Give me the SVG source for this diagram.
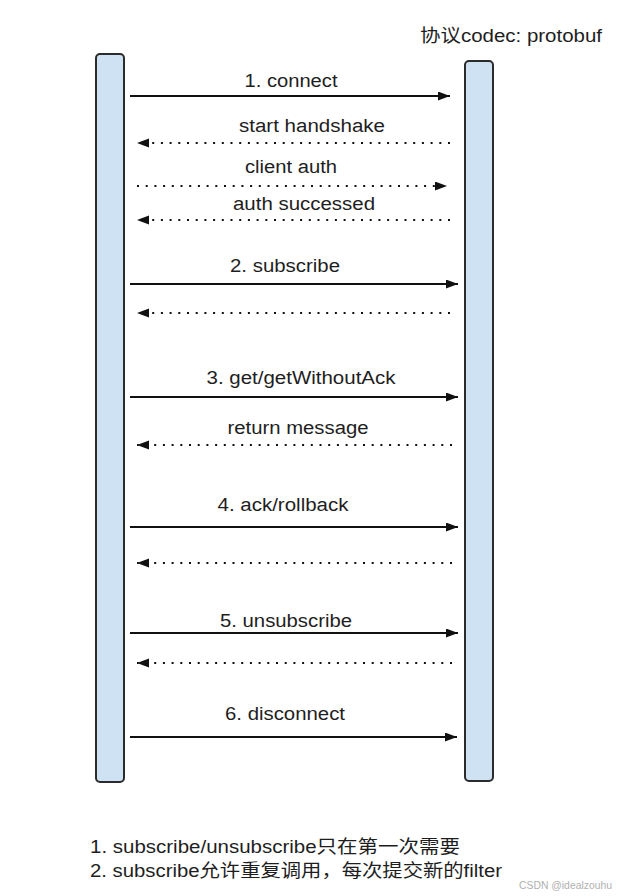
<svg xmlns="http://www.w3.org/2000/svg" width="619" height="896" viewBox="0 0 619 896">
<style>
.bg{fill:#ffffff}
.life{fill:#cfe2f3;stroke:#2b2b2b;stroke-width:2}
.lbl{font-family:"Liberation Sans",Arial,sans-serif;font-size:18px;fill:#1e1e1e;text-anchor:middle}
.note{font-family:"Liberation Sans","Noto Sans CJK SC",sans-serif;font-size:18px;fill:#1e1e1e}
.solid{stroke:#111;stroke-width:2;fill:none;marker-end:url(#ah)}
.dot{stroke:#111;stroke-width:2;fill:none;stroke-dasharray:2 6.7;marker-end:url(#ah)}
.wm{font-family:"Liberation Sans",Arial,sans-serif;font-size:11px;fill:#b0b0b0}
</style>
<defs>
<marker id="ah" markerUnits="userSpaceOnUse" markerWidth="13" markerHeight="10" refX="12" refY="4.5" orient="auto">
<path d="M0,0 L12,4.5 L0,9 z" fill="#111"/>
</marker>
</defs>
<rect class="bg" x="0" y="0" width="619" height="896"/>
<g id="title">
<text class="note" x="420" y="42" textLength="182" lengthAdjust="spacingAndGlyphs" font-family="'Liberation Sans','Noto Sans CJK SC',sans-serif">协议codec: protobuf</text>
</g>
<g id="client">
<rect class="life" x="96" y="54" width="28" height="728" rx="4"/>
</g>
<g id="server">
<rect class="life" x="465" y="61" width="28" height="720" rx="4"/>
</g>
<g id="connectors">
<line class="solid" x1="130" y1="96" x2="450" y2="96"/>
<line class="dot" x1="450" y1="143" x2="137" y2="143"/>
<line class="dot" x1="137" y1="186" x2="447" y2="186"/>
<line class="dot" x1="450" y1="220" x2="137" y2="220"/>
<line class="solid" x1="130" y1="284" x2="458" y2="284"/>
<line class="dot" x1="450" y1="313" x2="137" y2="313"/>
<line class="solid" x1="130" y1="397" x2="458" y2="397"/>
<line class="dot" x1="452" y1="445" x2="137" y2="445"/>
<line class="solid" x1="130" y1="527" x2="458" y2="527"/>
<line class="dot" x1="452" y1="563" x2="137" y2="563"/>
<line class="solid" x1="130" y1="633" x2="458" y2="633"/>
<line class="dot" x1="452" y1="663" x2="137" y2="663"/>
<line class="solid" x1="130" y1="737" x2="457" y2="737"/>
</g>
<g id="labels">
<text class="lbl" x="291" y="87" textLength="93" lengthAdjust="spacingAndGlyphs">1. connect</text>
<text class="lbl" x="312" y="132" textLength="146" lengthAdjust="spacingAndGlyphs">start handshake</text>
<text class="lbl" x="291" y="173" textLength="92" lengthAdjust="spacingAndGlyphs">client auth</text>
<text class="lbl" x="304" y="210" textLength="142" lengthAdjust="spacingAndGlyphs">auth successed</text>
<text class="lbl" x="285" y="272" textLength="110" lengthAdjust="spacingAndGlyphs">2. subscribe</text>
<text class="lbl" x="301" y="384" textLength="189" lengthAdjust="spacingAndGlyphs">3. get/getWithoutAck</text>
<text class="lbl" x="298" y="434" textLength="141" lengthAdjust="spacingAndGlyphs">return message</text>
<text class="lbl" x="283" y="511" textLength="131" lengthAdjust="spacingAndGlyphs">4. ack/rollback</text>
<text class="lbl" x="286" y="627" textLength="132" lengthAdjust="spacingAndGlyphs">5. unsubscribe</text>
<text class="lbl" x="285" y="720" textLength="120" lengthAdjust="spacingAndGlyphs">6. disconnect</text>
</g>
<g id="notes">
<text class="note" x="90" y="853" textLength="370" lengthAdjust="spacingAndGlyphs">1. subscribe/unsubscribe只在第一次需要</text>
<text class="note" x="90" y="877" textLength="412" lengthAdjust="spacingAndGlyphs">2. subscribe允许重复调用，每次提交新的filter</text>
</g>
<g id="watermark">
<text class="wm" x="519" y="889" textLength="93" lengthAdjust="spacingAndGlyphs">CSDN @idealzouhu</text>
</g>
</svg>
